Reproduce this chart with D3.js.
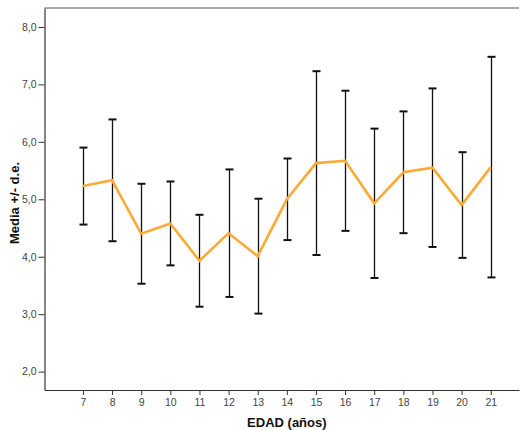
<!DOCTYPE html>
<html>
<head>
<meta charset="utf-8">
<script src="https://cdn.jsdelivr.net/npm/d3@7/dist/d3.min.js"></script>
<style>
  html, body { margin: 0; padding: 0; background: #fff; }
  svg { display: block; }
  text { font-family: "Liberation Sans", Arial, sans-serif; }
</style>
</head>
<body>
<svg id="chart" width="520" height="430"></svg>
<script>
// Age groups (years)
const ages = [7, 8, 9, 10, 11, 12, 13, 14, 15, 16, 17, 18, 19, 20, 21];
// Mean per age group
const means = [5.23, 5.33, 4.40, 4.58, 3.93, 4.41, 4.01, 5.00, 5.63, 5.67, 4.93, 5.47, 5.55, 4.90, 5.56];
// Standard deviation per age group
const sds = [0.67, 1.06, 0.87, 0.73, 0.80, 1.11, 1.00, 0.71, 1.60, 1.22, 1.30, 1.06, 1.38, 0.92, 1.92];
// Y axis tick values
const yTicks = [2, 3, 4, 5, 6, 7, 8];

(function () {
  const svg = d3.select("#chart");
  const plotLeft = 44.5, plotRight = 519, plotTop = 8, plotBottom = 390;

  const x = d3.scaleLinear()
    .domain([ages[0] - 1.32, ages[ages.length - 1] + 0.97])
    .range([plotLeft, plotRight]);
  const y = d3.scaleLinear()
    .domain([1.68, 8.33])
    .range([plotBottom, plotTop]);

  const fmt = d => d3.format(".1f")(d).replace(".", ",");

  // top border of the plot frame
  svg.append("line")
    .attr("x1", plotLeft).attr("x2", plotRight)
    .attr("y1", plotTop).attr("y2", plotTop)
    .attr("stroke", "#8c8c8c").attr("stroke-width", 1.5);

  // Y axis
  const yAxis = svg.append("g")
    .attr("transform", `translate(${plotLeft},0)`)
    .call(d3.axisLeft(y).tickValues(yTicks).tickFormat(fmt).tickSize(6).tickPadding(2).tickSizeOuter(0));
  yAxis.select(".domain").attr("stroke", "#333").attr("stroke-width", 1.2);
  yAxis.selectAll(".tick line").attr("stroke", "#333");
  yAxis.selectAll(".tick text").attr("fill", "#444").style("font-size", "10.5px");

  // X axis
  const xAxis = svg.append("g")
    .attr("transform", `translate(0,${plotBottom})`)
    .call(d3.axisBottom(x).tickValues(ages).tickFormat(d3.format("d")).tickSize(5).tickPadding(4).tickSizeOuter(0));
  xAxis.select(".domain").attr("stroke", "#333").attr("stroke-width", 1.2);
  xAxis.selectAll(".tick line").attr("stroke", "#333");
  xAxis.selectAll(".tick text").attr("fill", "#444").style("font-size", "10.5px");

  // Error bars: mean ± sd
  const rows = ages.map((a, i) => ({ age: a, mean: means[i], sd: sds[i] }));
  const eb = svg.append("g").attr("class", "errorbars");
  const capW = 4;
  rows.forEach(r => {
    const cx = Math.round(x(r.age)) + 0.5;
    const yHi = y(r.mean + r.sd), yLo = y(r.mean - r.sd);
    eb.append("line")
      .attr("x1", cx).attr("x2", cx).attr("y1", yHi).attr("y2", yLo)
      .attr("stroke", "#111").attr("stroke-width", 1.3);
    [yHi, yLo].forEach(yy => {
      eb.append("line")
        .attr("x1", cx - capW).attr("x2", cx + capW).attr("y1", yy).attr("y2", yy)
        .attr("stroke", "#111").attr("stroke-width", 2);
    });
  });

  // Mean line
  const line = d3.line().x(d => x(d.age)).y(d => y(d.mean));
  svg.append("path")
    .datum(rows)
    .attr("d", line)
    .attr("fill", "none")
    .attr("stroke", "#fbaa36")
    .attr("stroke-width", 2.6)
    .attr("stroke-linejoin", "miter");

  // Axis titles
  svg.append("text")
    .attr("x", (x(ages[0]) + x(ages[ages.length - 1])) / 2)
    .attr("y", 427)
    .attr("text-anchor", "middle")
    .style("font-size", "13px").style("font-weight", "bold").attr("fill", "#111")
    .text("EDAD (años)");

  svg.append("text")
    .attr("transform", `translate(19,${(plotTop + plotBottom) / 2 + 4}) rotate(-90)`)
    .attr("text-anchor", "middle")
    .style("font-size", "13px").style("font-weight", "bold").attr("fill", "#111")
    .text("Media +/- d.e.");
})();
</script>
</body>
</html>
